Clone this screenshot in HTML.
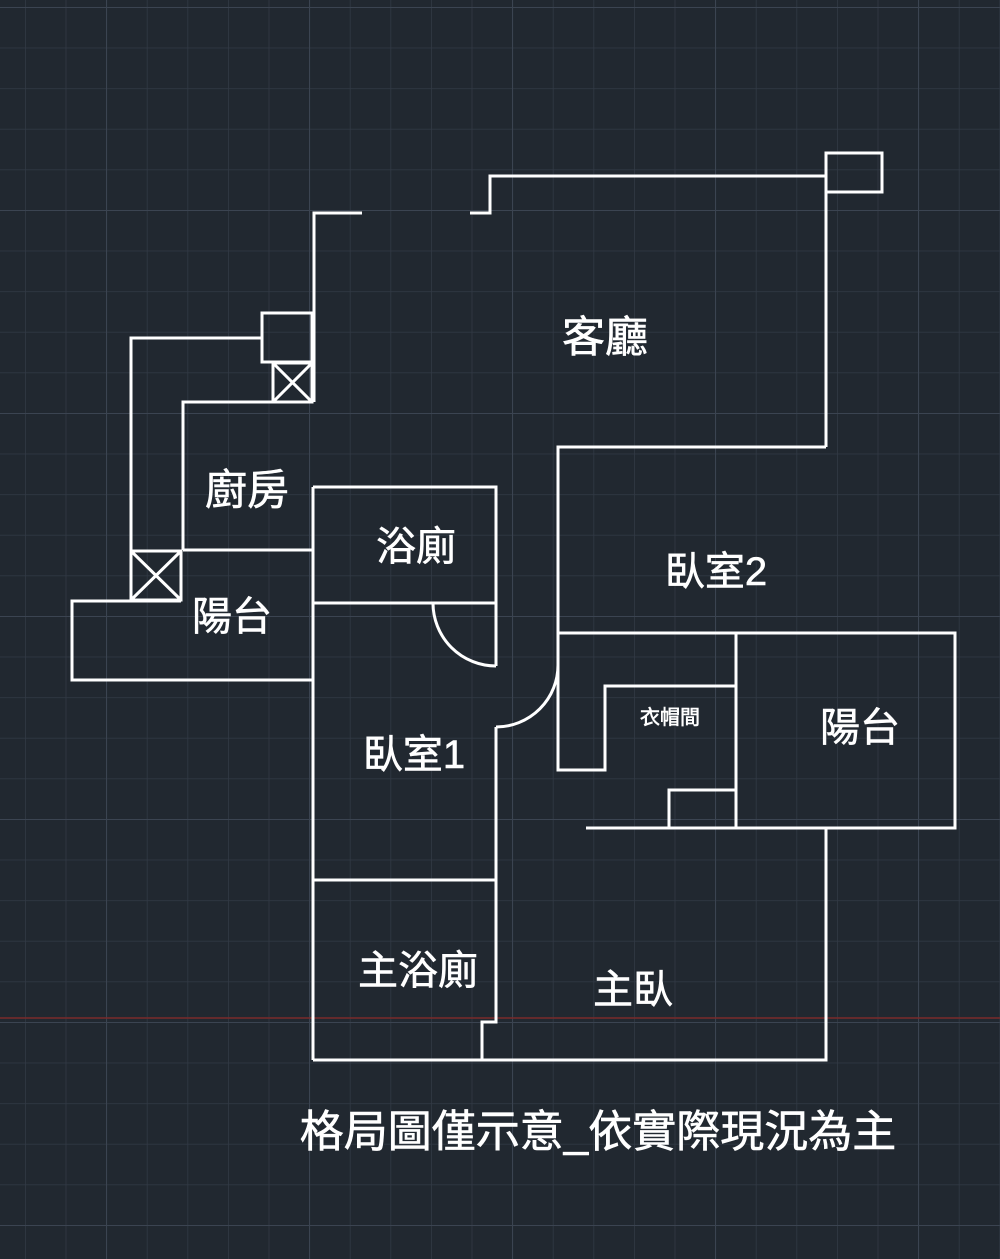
<!DOCTYPE html>
<html><head><meta charset="utf-8"><style>
html,body{margin:0;padding:0;background:#212830;}
svg{display:block}
text{font-family:"Liberation Sans","Noto Sans CJK TC",sans-serif;fill:#fff;text-anchor:middle;dominant-baseline:central;stroke:#fff;stroke-width:0.6}
</style></head><body>
<svg width="1000" height="1259" viewBox="0 0 1000 1259" xmlns="http://www.w3.org/2000/svg">
<defs>
<pattern id="g" width="40.6" height="40.6" patternUnits="userSpaceOnUse" x="25" y="7">
<path d="M0 0V40.6M0 0H40.6" stroke="#323a45" stroke-width="1.5" fill="none"/>
</pattern>
<pattern id="G" width="203" height="203" patternUnits="userSpaceOnUse" x="106" y="7">
<path d="M0 0V203M0 0H203" stroke="#3b4451" stroke-width="2" fill="none"/>
</pattern>
</defs>
<rect width="1000" height="1259" fill="#212830"/>
<rect width="1000" height="1259" fill="url(#g)"/>
<rect width="1000" height="1259" fill="url(#G)"/>
<line x1="0" y1="1018" x2="1000" y2="1018" stroke="#7a2a2a" stroke-width="1.5"/>
<g stroke="#fff" stroke-width="3" fill="none">
<polyline points="470,213 490,213 490,176 826,176 826,447"/>
<rect x="826" y="153" width="56" height="39"/>
<polyline points="362,213 314,213 314,402"/>
<rect x="262" y="313" width="50" height="49"/>
<rect x="273" y="363" width="39" height="39"/>
<path d="M273 363L312 402M312 363L273 402"/>
<polyline points="262,338 131,338 131,600"/>
<polyline points="312,402 183,402 183,550"/>
<line x1="183" y1="550" x2="313" y2="550"/>
<rect x="131" y="551" width="50" height="49"/>
<path d="M131 551L181 600M181 551L131 600"/>
<polyline points="181,601 72,601 72,680 313,680"/>
<polyline points="313,487 496,487 496,603"/>
<line x1="313" y1="487" x2="313" y2="1060"/>
<line x1="313" y1="603" x2="496" y2="603"/>
<line x1="496" y1="603" x2="496" y2="666"/>
<path d="M433 603A63 63 0 0 0 496 666"/>
<path d="M558 665A62 62 0 0 1 496 727"/>
<polyline points="496,727 496,1022 482,1022 482,1060"/>
<line x1="313" y1="880" x2="496" y2="880"/>
<polyline points="313,1060 826,1060 826,828"/>
<polyline points="558,665 558,447 826,447"/>
<polyline points="558,633 955,633 955,828 586,828"/>
<polyline points="558,633 558,770 605,770 605,686 736,686"/>
<line x1="736" y1="633" x2="736" y2="828"/>
<polyline points="669,828 669,790 736,790"/>
</g>
<text x="605" y="338" font-size="43">客廳</text>
<text x="247" y="490" font-size="42">廚房</text>
<text x="416" y="547" font-size="40">浴廁</text>
<text x="232" y="617" font-size="40">陽台</text>
<text x="716" y="572" font-size="40">臥室2</text>
<text x="414" y="755" font-size="40">臥室1</text>
<text x="860" y="728" font-size="40">陽台</text>
<text x="670" y="718" font-size="20">衣帽間</text>
<text x="418" y="971" font-size="40">主浴廁</text>
<text x="633" y="990" font-size="40">主臥</text>
<text x="598" y="1132" font-size="44">格局圖僅示意_依實際現況為主</text>
</svg>
</body></html>
